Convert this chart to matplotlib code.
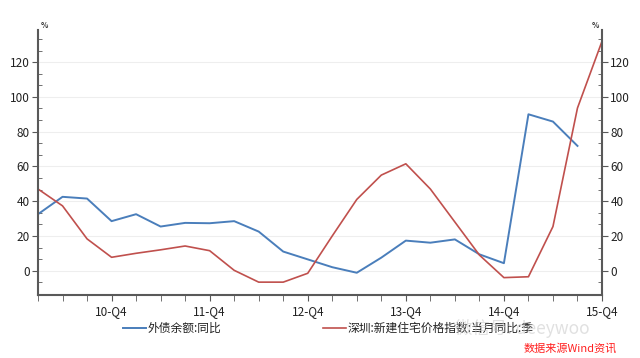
import matplotlib.pyplot as plt
from matplotlib.lines import Line2D
from matplotlib.ticker import MultipleLocator

plt.rcParams['font.family'] = ['Noto Sans CJK SC', 'DejaVu Sans']

quarters = [f'{y}-Q{q}' for y in range(10, 16) for q in range(1, 5)]

# 外债余额:同比 (ends at 15-Q3)
debt_yoy = [32.5, 42.5, 41.5, 28.5, 32.5, 25.4, 27.5, 27.3,
            28.5, 22.5, 11.0, 6.5, 2.0, -1.2, 7.5, 17.3,
            16.1, 18.0, 9.4, 4.3, 90.0, 85.8, 71.8]

# 深圳:新建住宅价格指数:当月同比:季
sz_house = [47.0, 37.3, 18.3, 7.7, 10.0, 12.0, 14.2, 11.5,
            0.2, -6.6, -6.6, -1.5, 20.0, 41.0, 55.0, 61.5,
            47.0, 28.0, 9.0, -4.0, -3.5, 25.4, 93.6, 132.0]

label_debt = '外债余额:同比'
label_house = '深圳:新建住宅价格指数:当月同比:季'

blue = '#4a7ebb'
red = '#c0504d'
axis_col = '#595959'

fig = plt.figure(figsize=(6.4, 3.58), dpi=100)
ax = fig.add_axes([38 / 640, 1 - 295 / 358, 564 / 640, 265 / 358])

x_debt = list(range(len(debt_yoy)))
x_house = list(range(len(sz_house)))
ax.plot(x_debt, debt_yoy, color=blue, lw=1.4)
ax.plot(x_house, sz_house, color=red, lw=1.2)

ax.set_xlim(0, len(quarters) - 1)
ax.set_ylim(-14, 138.5)

# x ticks: every quarter, labels on Q4 only
q4 = [i for i, q in enumerate(quarters) if q.endswith('Q4')]
ax.set_xticks(q4)
ax.set_xticklabels([quarters[i] for i in q4])
ax.xaxis.set_minor_locator(MultipleLocator(1))
ax.tick_params(axis='x', which='both', direction='out', length=4,
               color=axis_col, labelsize=8.5, pad=3, labelcolor='#222222')

ax.set_yticks([0, 20, 40, 60, 80, 100, 120])
ax.yaxis.set_minor_locator(MultipleLocator(20 / 3))
ax.tick_params(axis='y', which='major', direction='out', length=4,
               left=True, right=True, labelleft=True, labelright=True,
               color=axis_col, labelsize=8.5, labelcolor='#222222', pad=2)
ax.tick_params(axis='y', which='minor', direction='in', length=3,
               left=True, right=True, color=axis_col)

ax.grid(axis='y', which='major', color='#eeeeee', lw=0.8)
ax.set_axisbelow(True)

ax.spines['top'].set_visible(False)
for s in ['left', 'right', 'bottom']:
    ax.spines[s].set_color(axis_col)
    ax.spines[s].set_linewidth(1.5)

fig.text(41 / 640, 1 - 30 / 358, '%', fontsize=5.5, fontweight='bold',
         ha='left', va='bottom', color='#333333')
fig.text(599 / 640, 1 - 30 / 358, '%', fontsize=5.5, fontweight='bold',
         ha='right', va='bottom', color='#333333')

# legend
ly = 1 - 328 / 358
fig.add_artist(Line2D([123 / 640, 146 / 640], [ly, ly], color=blue, lw=1.4))
fig.text(148 / 640, ly, label_debt, fontsize=8.5, va='center', color='#222222')
fig.add_artist(Line2D([323 / 640, 346 / 640], [ly, ly], color=red, lw=1.2))
fig.text(348 / 640, ly, label_house, fontsize=8.5, va='center', color='#222222')

# watermark and source
fig.text(455 / 640, 1 - 329 / 358, '微信号: deeywoo', fontsize=12.5,
         color='#c8c8c8', alpha=0.55, va='center')
fig.text(617 / 640, 1 - 348 / 358, '数据来源Wind资讯', fontsize=8,
         color='#ff2020', style='italic', ha='right', va='center')

fig.savefig('out.png', dpi=100)
